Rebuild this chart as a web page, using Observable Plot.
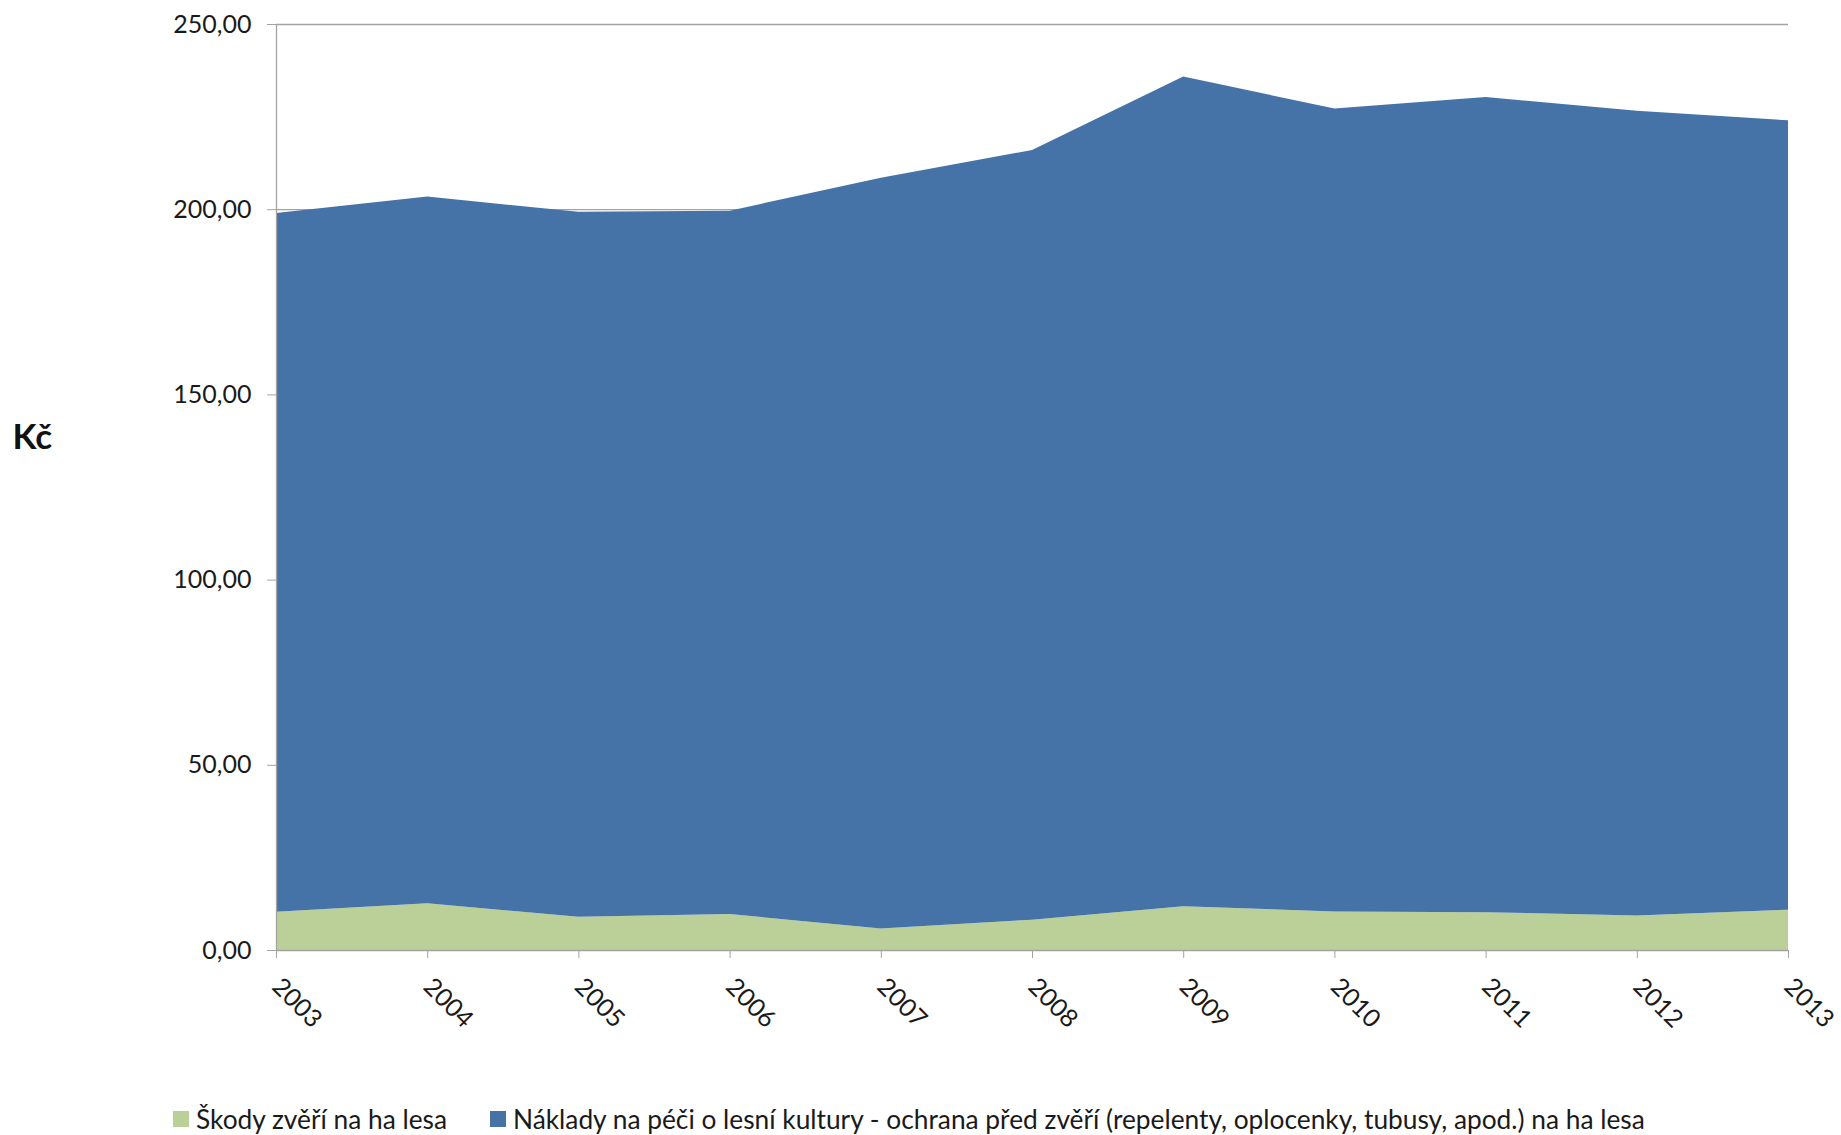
<!DOCTYPE html>
<html>
<head>
<meta charset="utf-8">
<script src="https://cdn.jsdelivr.net/npm/d3@7"></script>
<script src="https://cdn.jsdelivr.net/npm/@observablehq/plot@0.6"></script>
<style>
  html, body { margin: 0; padding: 0; background: #fff; }
  body { font-family: Lato, "Open Sans", sans-serif; color: #1a1a1a; width: 1841px; }
  #legend { display: flex; align-items: center; padding-left: 173px; padding-top: 9px; height: 40px; font-size: 26.3px; line-height: 40px; white-space: nowrap; }
  .item { display: flex; align-items: center; }
  .sw { width: 16px; height: 16px; margin-right: 7px; flex: none; }
</style>
</head>
<body>
<div id="chart"></div>
<div id="legend"></div>
<script>
const years = [2003, 2004, 2005, 2006, 2007, 2008, 2009, 2010, 2011, 2012, 2013];
const damage = [10.3, 12.6, 9.0, 9.7, 5.8, 8.2, 11.8, 10.4, 10.2, 9.3, 10.9];
const protection = [188.7, 190.8, 190.3, 189.9, 202.7, 207.8, 224.0, 216.8, 220.1, 217.3, 213.1];
const seriesNames = [
  "Škody zvěří na ha lesa",
  "Náklady na péči o lesní kultury - ochrana před zvěří (repelenty, oplocenky, tubusy, apod.) na ha lesa"
];
const seriesColors = ["#bbcf98", "#4673a7"];
const yTicks = [0, 50, 100, 150, 200, 250];
const yLabel = "Kč";

const data = [];
years.forEach((yr, i) => data.push({year: yr, value: damage[i], series: seriesNames[0]}));
years.forEach((yr, i) => data.push({year: yr, value: protection[i], series: seriesNames[1]}));

const fmt = d => d.toFixed(2).replace(".", ",");
const gray = "#a3a3a3";

const chart = Plot.plot({
  width: 1841,
  height: 1090,
  marginLeft: 276,
  marginRight: 53,
  marginTop: 24,
  marginBottom: 140,
  style: {fontFamily: "Lato, 'Open Sans', sans-serif", fontSize: "25px", color: "#1a1a1a", background: "#fff"},
  x: {type: "linear", domain: [years[0], years[years.length - 1]]},
  y: {domain: [yTicks[0], yTicks[yTicks.length - 1]]},
  color: {domain: seriesNames, range: seriesColors},
  marks: [
    Plot.ruleY(yTicks.slice(1), {stroke: gray, strokeWidth: 1.3}),
    Plot.areaY(data, {x: "year", y: "value", fill: "series", z: "series"}),
    Plot.ruleX([years[0]], {stroke: gray, strokeWidth: 1.3}),
    Plot.ruleY([0], {stroke: gray, strokeWidth: 1.3}),
    Plot.axisY({ticks: yTicks, tickSize: 9, tickPadding: 16, tickFormat: fmt, label: null, stroke: gray, fontSize: 25}),
    Plot.axisX({ticks: years, tickSize: 8, tickPadding: 24, tickRotate: 45, tickFormat: d => String(d), label: null, stroke: gray, fontSize: 25}),
    Plot.text([yLabel], {frameAnchor: "left", dx: -264, dy: -50, textAnchor: "start", fontWeight: "bold", fontSize: 35, fill: "#111"})
  ]
});
document.getElementById("chart").appendChild(chart);

const legend = document.getElementById("legend");
seriesNames.forEach((name, i) => {
  const item = document.createElement("div");
  item.className = "item";
  if (i === 0) item.style.width = "317px";
  const sw = document.createElement("div");
  sw.className = "sw";
  sw.style.background = seriesColors[i];
  const t = document.createElement("span");
  t.textContent = name;
  item.appendChild(sw);
  item.appendChild(t);
  legend.appendChild(item);
});
</script>
</body>
</html>
